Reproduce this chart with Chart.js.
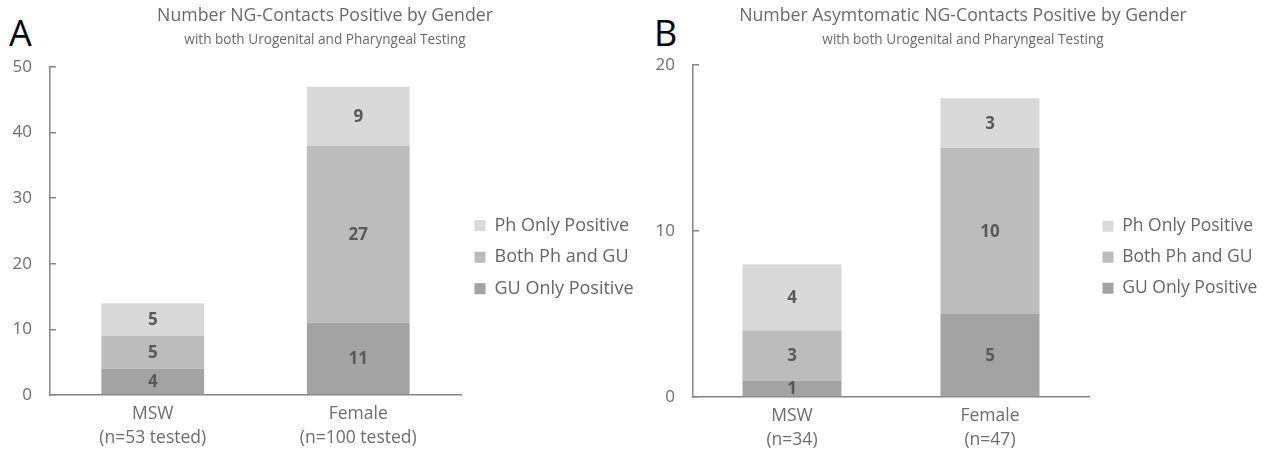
<!DOCTYPE html>
<html>
<head>
<meta charset="utf-8">
<script src="https://cdn.jsdelivr.net/npm/chart.js@4"></script>
<style>
  body { margin: 0; background: #fff; width: 1268px; height: 460px; overflow: hidden; position: relative; }
  canvas { position: absolute; top: 0; }
  .panel { position: absolute; top: 15px; font-family: "Open Sans", sans-serif; font-size: 36px; color: #000; line-height: 1; }
</style>
</head>
<body>
<div class="panel" style="left:9px">A</div>
<div class="panel" style="left:654px">B</div>
<canvas id="chartA" width="640" height="460" style="left:0"></canvas>
<canvas id="chartB" width="634" height="460" style="left:640px"></canvas>
<script>
// panel A - all contacts
const categoriesA = [["MSW", "(n=53 tested)"], ["Female", "(n=100 tested)"]];
const guOnlyA = [4, 11];
const bothA = [5, 27];
const phOnlyA = [5, 9];
const ticksMaxA = 50;

// panel B - asymptomatic contacts
const categoriesB = [["MSW", "(n=34)"], ["Female", "(n=47)"]];
const guOnlyB = [1, 5];
const bothB = [3, 10];
const phOnlyB = [4, 3];
const ticksMaxB = 20;

const seriesNames = ["GU Only Positive", "Both Ph and GU", "Ph Only Positive"];
const seriesColors = ["#a3a3a3", "#bcbcbc", "#d9d9d9"];

Chart.defaults.font.family = '"Open Sans", sans-serif';

// numbers in the middle of each stacked piece
const valueLabels = {
  id: "valueLabels",
  afterDatasetsDraw(chart) {
    const ctx = chart.ctx;
    ctx.save();
    ctx.font = 'bold 17px "Open Sans", sans-serif';
    ctx.fillStyle = "#595959";
    ctx.textAlign = "center";
    ctx.textBaseline = "middle";
    chart.data.datasets.forEach((ds, i) => {
      chart.getDatasetMeta(i).data.forEach((bar, j) => {
        const p = bar.getCenterPoint();
        ctx.fillText(ds.data[j], p.x, p.y + 1);
      });
    });
    ctx.restore();
  }
};

// legend on the right gets a fixed width (chart.js caps it at a quarter of the canvas)
const legendBox = {
  id: "legendBox",
  beforeLayout(chart, args, opts) {
    const legend = chart.legend;
    if (!legend || legend.fixedWidth) return;
    const fit = legend.fit;
    legend.fit = function () {
      fit.call(this);
      this.width = opts.width;
    };
    legend.fixedWidth = true;
  }
};

function createChart(id, title, cats, gu, both, ph, maxY, lay) {
  const ctx = document.getElementById(id).getContext("2d");
  return new Chart(ctx, {
    type: "bar",
    data: {
      labels: cats,
      datasets: [
        { label: seriesNames[0], data: gu, backgroundColor: seriesColors[0] },
        { label: seriesNames[1], data: both, backgroundColor: seriesColors[1] },
        { label: seriesNames[2], data: ph, backgroundColor: seriesColors[2] },
      ],
    },
    options: {
      responsive: false,
      animation: false,
      devicePixelRatio: 1,
      layout: { padding: { left: lay.pl, right: lay.pr, top: 0, bottom: 0 } },
      categoryPercentage: 0.5,
      barPercentage: 1,
      plugins: {
        title: {
          display: true,
          text: title,
          color: "#6a6a6a",
          font: { size: 17.7, weight: "normal", lineHeight: 1.2 },
          padding: { top: 5, bottom: 4 },
        },
        subtitle: {
          display: true,
          text: "with both Urogenital and Pharyngeal Testing",
          color: "#6a6a6a",
          font: { size: 13.6, lineHeight: 1.2 },
          padding: { top: 2, bottom: lay.subBottom },
        },
        legend: {
          position: "right",
          reverse: true,
          title: { display: true, text: "", padding: { top: 0, bottom: 40 } },
          labels: {
            boxWidth: 11,
            boxHeight: 11,
            padding: 13.5,
            color: "#666",
            font: { size: lay.lf },
          },
        },
        legendBox: { width: lay.lw },
        tooltip: { enabled: false },
      },
      scales: {
        x: {
          stacked: true,
          grid: { drawOnChartArea: false, drawTicks: false },
          border: { color: "#868686", width: 1.5 },
          ticks: { color: "#6e6e6e", font: { size: 17.5, lineHeight: 1.37 }, padding: 7 },
          afterFit: (s) => { s.height = lay.xh; },
        },
        y: {
          stacked: true,
          min: 0,
          max: maxY,
          grid: { drawOnChartArea: false, tickLength: -6, color: "#868686", lineWidth: 1.5 },
          border: { color: "#868686", width: 1.5 },
          ticks: { stepSize: 10, color: "#6e6e6e", font: { size: 17 }, padding: 24 },
          afterFit: (s) => { s.width = lay.yw; },
        },
      },
    },
    plugins: [valueLabels, legendBox],
  });
}

createChart("chartA", "Number NG-Contacts Positive by Gender", categoriesA, guOnlyA, bothA, phOnlyA, ticksMaxA,
  { pl: 10, pr: 0, yw: 40, lw: 179, lf: 18, xh: 65, subBottom: 18.44 });
createChart("chartB", "Number Asymtomatic NG-Contacts Positive by Gender", categoriesB, guOnlyB, bothB, phOnlyB, ticksMaxB,
  { pl: 13, pr: 1, yw: 40, lw: 184, lf: 17.5, xh: 63, subBottom: 16.44 });
</script>
</body>
</html>
